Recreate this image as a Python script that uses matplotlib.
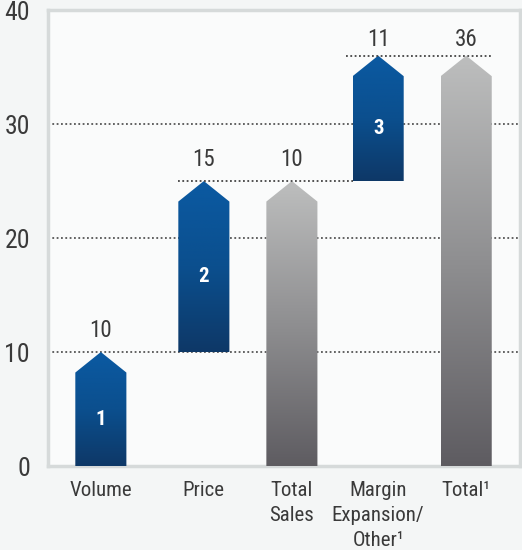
import numpy as np
import matplotlib.pyplot as plt
from matplotlib import font_manager
from matplotlib.patches import Polygon
from matplotlib.colors import LinearSegmentedColormap

# -----------------------------
# Data
# -----------------------------
categories = ['Volume', 'Price', 'Total\nSales', 'Margin\nExpansion/\nOther\u00b9', 'Total\u00b9']
bar_bottoms = [0, 10, 0, 25, 0]
bar_tops = [10, 25, 25, 36, 36]
value_labels = ['10', '15', '10', '11', '36']
step_labels = ['1', '2', '', '3', '']
bar_kinds = ['step', 'step', 'total', 'step', 'total']
y_ticks = [0, 10, 20, 30, 40]

# -----------------------------
# Layout / style
# -----------------------------
positions = [0, 1.17, 2.17, 3.15, 4.15]
bar_width = 0.58
shoulder = 1.8
label_gap = [0.9, 0.9, 0.9, 0.45, 0.45]
text_color = '#3a3a3a'

# prefer a narrow sans face if one is installed
installed = {f.name for f in font_manager.fontManager.ttflist}
preferred = ['Liberation Sans Narrow', 'Roboto Condensed', 'Open Sans Condensed',
             'Noto Sans Condensed', 'DejaVu Sans Condensed']
narrow = [n for n in preferred if n in installed]
if not narrow:
    narrow = sorted(n for n in installed if 'Narrow' in n or 'Condensed' in n)
plt.rcParams['font.family'] = narrow[:1] + ['Liberation Sans', 'DejaVu Sans']

blue_cmap = LinearSegmentedColormap.from_list('blue', ['#0e3867', '#0b4f8e', '#0b5aa2'])
gray_cmap = LinearSegmentedColormap.from_list('gray', ['#5e5c61', '#8f8f91', '#bdbebe'])

fig = plt.figure(figsize=(5.22, 5.5), dpi=100, facecolor='#f4f6f6')
ax = fig.add_axes([0.092, 0.1527, 0.904, 0.829])
ax.set_facecolor('#fafbfb')
ax.set_xlim(-0.60, 4.76)
ax.set_ylim(0, 40)

# dotted gridlines
for g in y_ticks[1:-1]:
    ax.axhline(g, color='#555555', lw=1.3, ls=(0, (1, 1.4)), zorder=1)

# arrow-shaped bars with vertical gradient fill
grad = np.linspace(0, 1, 256).reshape(-1, 1)
for x, b, t, kind in zip(positions, bar_bottoms, bar_tops, bar_kinds):
    l, r = x - bar_width / 2, x + bar_width / 2
    verts = [(l, b), (r, b), (r, t - shoulder), (x, t), (l, t - shoulder)]
    poly = Polygon(verts, closed=True, facecolor='none', edgecolor='none', zorder=3)
    ax.add_patch(poly)
    cmap = blue_cmap if kind == 'step' else gray_cmap
    im = ax.imshow(grad, extent=[l, r, b, t], origin='lower', aspect='auto',
                   cmap=cmap, zorder=3)
    im.set_clip_path(poly)

# connector lines between steps
ax.plot([positions[1] - bar_width / 2, positions[3] - bar_width / 2], [25, 25],
        color='#444444', lw=1.3, ls=(0, (1, 1.4)), zorder=4)
ax.plot([positions[3] - bar_width / 2 - 0.08, positions[4] + bar_width / 2 + 0.01], [36, 36],
        color='#444444', lw=1.3, ls=(0, (1, 1.4)), zorder=4)

# value labels above the tips and step numbers inside the bars
for x, b, t, v, s, gap in zip(positions, bar_bottoms, bar_tops, value_labels,
                              step_labels, label_gap):
    ax.text(x, t + gap, v, ha='center', va='bottom', fontsize=16.5, color=text_color)
    if s:
        ax.text(x, (b + t - shoulder) / 2, s, ha='center', va='center', fontsize=15,
                color='white', fontweight='bold', zorder=5)

# axes styling
ax.set_xticks(positions)
ax.set_xticklabels(categories, fontsize=15, color=text_color, va='top', linespacing=1.4)
ax.set_yticks(y_ticks)
ax.set_yticklabels([str(v) for v in y_ticks], fontsize=18.5, color=text_color)
ax.tick_params(length=0)
ax.tick_params(axis='x', pad=11)
ax.tick_params(axis='y', pad=13)
for sp in ax.spines.values():
    sp.set_color('#d6dada')
    sp.set_linewidth(2.5)

fig.savefig('out.png', dpi=100, facecolor=fig.get_facecolor())
